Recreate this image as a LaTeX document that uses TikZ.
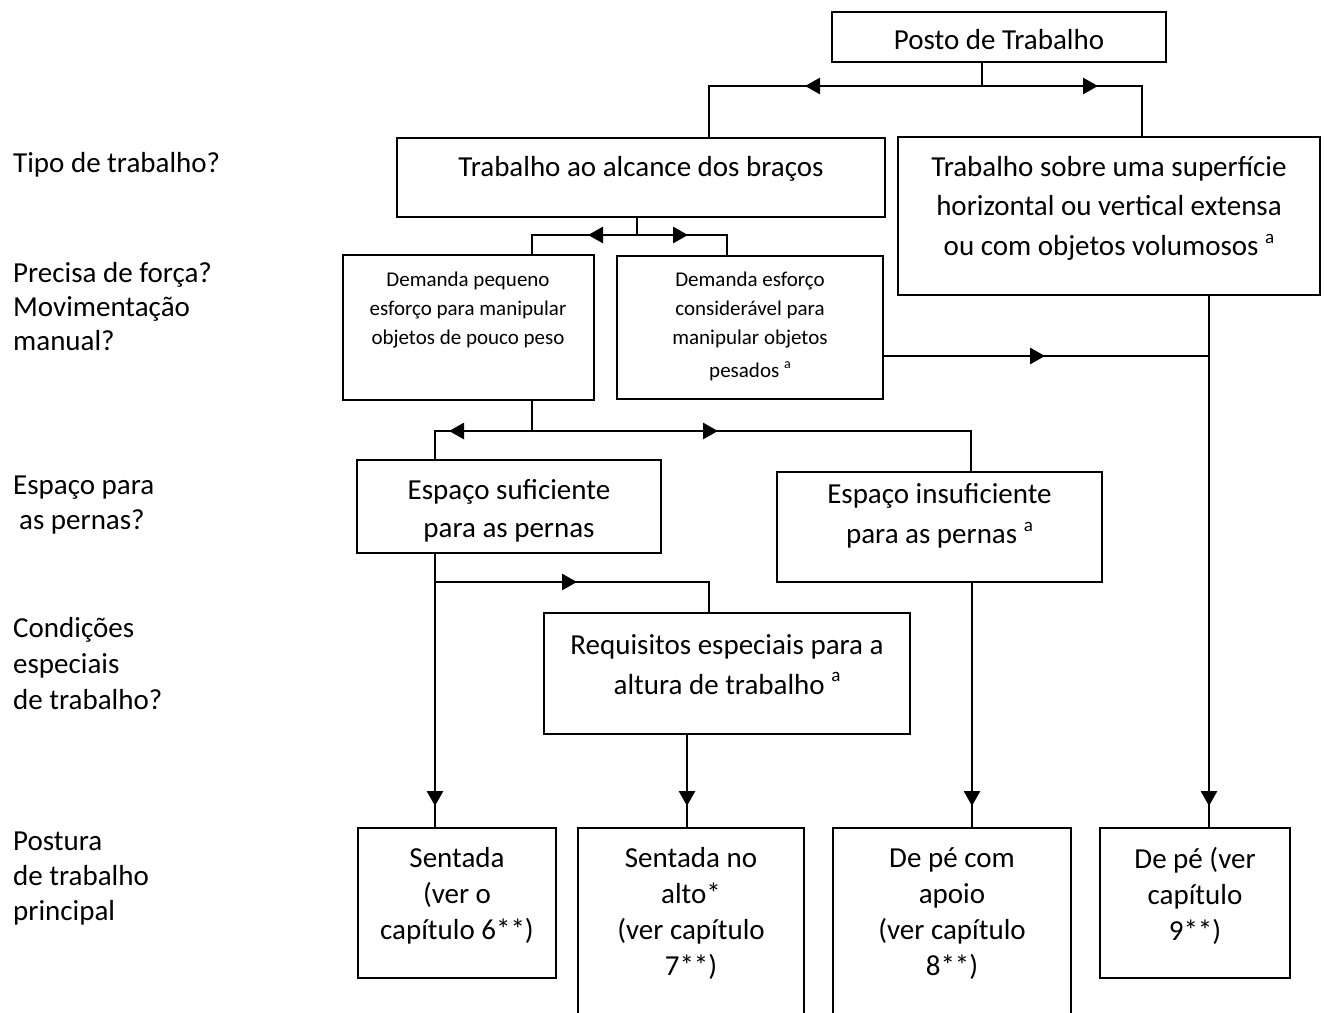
\documentclass[tikz,border=0pt]{standalone}
\usepackage{fontspec}
\setmainfont{Carlito}
\usetikzlibrary{arrows.meta}
\newcommand\supbig{\raisebox{0.42em}{\fontsize{19}{19}\selectfont a}}
\newcommand\supsmall{\raisebox{0.42em}{\fontsize{14}{14}\selectfont a}}
\begin{document}
\begin{tikzpicture}[x=1pt,y=-1pt,
  box/.style={draw, line width=1.6pt, inner sep=0pt, outer sep=0pt, anchor=north west},
  txt/.style={align=center, inner sep=0pt, anchor=north, font=\fontsize{29}{38}\selectfont},
  small/.style={align=center, inner sep=0pt, anchor=north, font=\fontsize{21}{29}\selectfont},
  lab/.style={align=left, inner sep=0pt, anchor=north west, font=\fontsize{29}{35}\selectfont},
  conn/.style={line width=1.5pt},
  arr/.style={line width=2.8pt, -{Triangle[length=15pt,width=16pt]}},
  darr/.style={line width=2.8pt, {Triangle[length=15pt,width=16pt]}-{Triangle[length=15pt,width=16pt]}}]
\useasboundingbox (0,0) rectangle (1327,1012);

% boxes
\node[box, minimum width=334pt, minimum height=50pt]  (posto)  at (832,12)  {};
\node[box, minimum width=488pt, minimum height=79pt]  (taab)   at (397,138) {};
\node[box, minimum width=422pt, minimum height=158pt] (sup)    at (898,137) {};
\node[box, minimum width=251pt, minimum height=145pt] (dpq)    at (343,255) {};
\node[box, minimum width=266pt, minimum height=143pt] (desf)   at (617,256) {};
\node[box, minimum width=304pt, minimum height=93pt]  (esuf)   at (357,460) {};
\node[box, minimum width=325pt, minimum height=110pt] (einsuf) at (777,472) {};
\node[box, minimum width=366pt, minimum height=121pt] (req)    at (544,613) {};
\node[box, minimum width=198pt, minimum height=150pt] (sent)   at (358,828) {};
\node[box, minimum width=226pt, minimum height=200pt] (salto)  at (578,828) {};
\node[box, minimum width=238pt, minimum height=200pt] (depc)   at (833,828) {};
\node[box, minimum width=190pt, minimum height=150pt] (depe)   at (1100,828) {};

% box texts
\node[txt] (posto-t) at (999,29) {Posto de Trabalho};
\node[txt] (taab-t) at (641,156) {Trabalho ao alcance dos braços};
\node[txt, font=\fontsize{29}{39.5}\selectfont] (sup-t) at (1109,156)
  {Trabalho sobre uma superfície\\horizontal ou vertical extensa\\ou com objetos volumosos \supbig};
\node[small] (dpq-t) at (468,272) {Demanda pequeno\\esforço para manipular\\objetos de pouco peso};
\node[small] (desf-t) at (750,272) {Demanda esforço\\considerável para\\manipular objetos\\[4pt]pesados \supsmall};
\node[txt] (esuf-t) at (509,479) {Espaço suficiente\\para as pernas};
\node[txt, font=\fontsize{29}{40}\selectfont] (einsuf-t) at (939.5,483) {Espaço insuficiente\\para as pernas \supbig};
\node[txt, font=\fontsize{29}{40}\selectfont] (req-t) at (727,634) {Requisitos especiais para a\\altura de trabalho \supbig};
\node[txt, font=\fontsize{29}{36}\selectfont] (sent-t) at (457,847) {Sentada\\(ver o\\capítulo 6**)};
\node[txt, font=\fontsize{29}{36}\selectfont] (salto-t) at (691,847) {Sentada no\\alto*\\(ver capítulo\\7**)};
\node[txt, font=\fontsize{29}{36}\selectfont] (depc-t) at (952,847) {De pé com\\apoio\\(ver capítulo\\8**)};
\node[txt, font=\fontsize{29}{36}\selectfont] (depe-t) at (1195,847) {De pé (ver\\capítulo\\9**)};

% left labels
\node[lab] (l1) at (13,152) {Tipo de trabalho?};
\node[lab, font=\fontsize{29}{34}\selectfont] (l2) at (13,262) {Precisa de força?\\Movimentação\\manual?};
\node[lab] (l3) at (13,476) {Espaço para\\\hspace*{6pt}as pernas?};
\node[lab, font=\fontsize{29}{36}\selectfont] (l4) at (13,617) {Condições\\especiais\\de trabalho?};
\node[lab] (l5) at (13,832) {Postura\\de trabalho\\principal};

% junction coordinates
\coordinate (j1) at (982,86);  \coordinate (j1l) at (709,86);  \coordinate (j1r) at (1142,86);
\coordinate (j2) at (637,235); \coordinate (j2l) at (532,235); \coordinate (j2r) at (727,235);
\coordinate (j3) at (1209,356);
\coordinate (j4) at (532,431); \coordinate (j4l) at (435,431); \coordinate (j4r) at (971,431);
\coordinate (j5) at (435,582); \coordinate (j5r) at (709,582);
\coordinate (x6) at (687,700); \coordinate (x7) at (972,700);

% connectors
\draw[conn] (j1 |- posto.south) -- (j1);
\draw[conn] (j1l |- taab.north) -- (j1l) -- (j1r) -- (j1r |- sup.north);
\draw[conn] (j2 |- taab.south) -- (j2);
\draw[conn] (j2l |- dpq.north) -- (j2l) -- (j2r) -- (j2r |- desf.north);
\draw[conn] (j3 -| desf.east) -- (j3);
\draw[conn] (j3 |- sup.south) -- (j3 |- depe.north);
\draw[conn] (j4 |- dpq.south) -- (j4);
\draw[conn] (j4l |- esuf.north) -- (j4l) -- (j4r) -- (j4r |- einsuf.north);
\draw[conn] (j5 |- esuf.south) -- (j5 |- sent.north);
\draw[conn] (j5) -- (j5r) -- (j5r |- req.north);
\draw[conn] (x6 |- req.south) -- (x6 |- salto.north);
\draw[conn] (x7 |- einsuf.south) -- (x7 |- depc.north);

% arrow marks on connectors
\coordinate (a1s) at (882,86);   \coordinate (a1e) at (805,86);
\coordinate (a2s) at (1030,86);  \coordinate (a2e) at (1098,86);
\coordinate (a3s) at (588,235);  \coordinate (a3e) at (688,235);
\coordinate (a4s) at (970,356);  \coordinate (a4e) at (1045,356);
\coordinate (a5s) at (467,431);  \coordinate (a5e) at (449,431);
\coordinate (a6s) at (660,431);  \coordinate (a6e) at (718,431);
\coordinate (a7s) at (500,582);  \coordinate (a7e) at (577,582);
\coordinate (b1s) at (435,775);  \coordinate (b1e) at (435,806);
\coordinate (b2s) at (687,775);  \coordinate (b2e) at (687,806);
\coordinate (b3s) at (972,775);  \coordinate (b3e) at (972,806);
\coordinate (b4s) at (1209,775); \coordinate (b4e) at (1209,806);
\draw[arr] (a1s) -- (a1e);
\draw[arr] (a2s) -- (a2e);
\draw[darr] (a3s) -- (a3e);
\draw[arr] (a4s) -- (a4e);
\draw[arr] (a5s) -- (a5e);
\draw[arr] (a6s) -- (a6e);
\draw[arr] (a7s) -- (a7e);
\draw[arr] (b1s) -- (b1e);
\draw[arr] (b2s) -- (b2e);
\draw[arr] (b3s) -- (b3e);
\draw[arr] (b4s) -- (b4e);
\end{tikzpicture}
\end{document}
